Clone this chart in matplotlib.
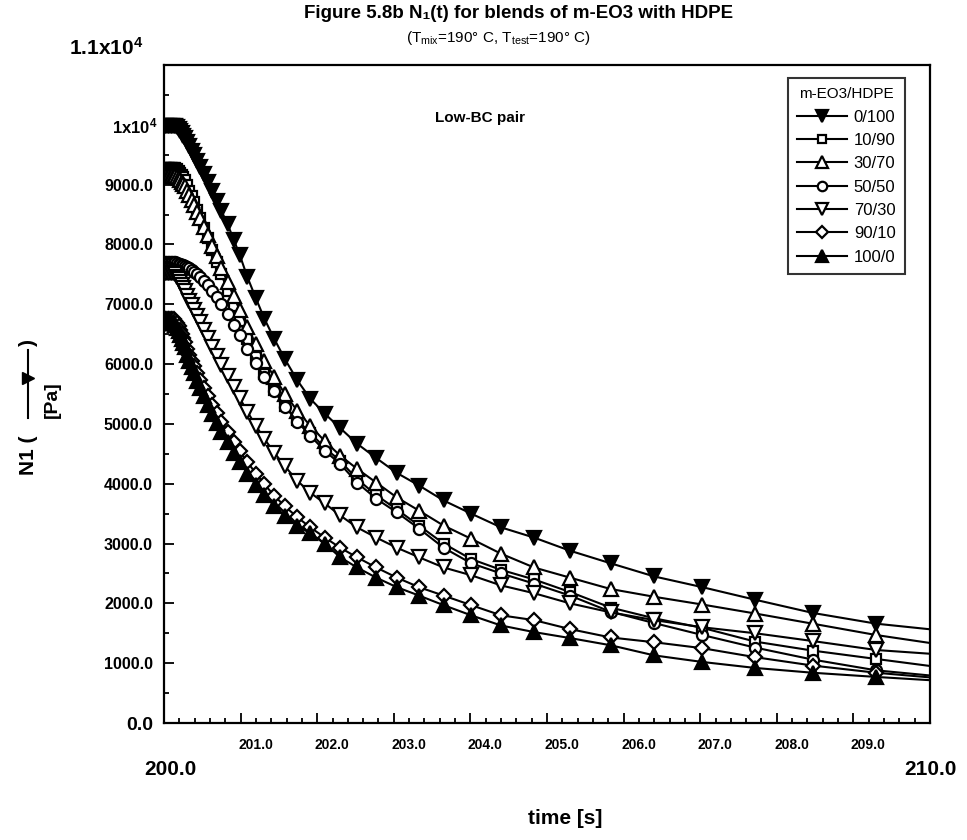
import matplotlib
matplotlib.use('Agg')
import matplotlib.pyplot as plt
from matplotlib.lines import Line2D
from matplotlib.transforms import ScaledTranslation
from matplotlib.ticker import MultipleLocator

plt.rcParams['font.family'] = ['Liberation Sans', 'DejaVu Sans']
plt.rcParams['mathtext.default'] = 'regular'

# ---------------- data ----------------
time = [200.01, 200.03, 200.05, 200.07, 200.09, 200.11, 200.13, 200.15,
        200.17, 200.19, 200.21, 200.23, 200.25, 200.27,
        200.30, 200.33, 200.36, 200.39, 200.43, 200.47, 200.52, 200.57,
        200.63, 200.69, 200.75, 200.83, 200.91, 200.99,
        201.09, 201.20, 201.31, 201.44, 201.58, 201.74, 201.91,
        202.10, 202.30, 202.52, 202.77, 203.04, 203.33, 203.65,
        204.01, 204.40, 204.83, 205.30, 205.83,
        206.40, 207.03, 207.72, 208.47, 209.30, 210.20]

n1_0_100 = [9980, 9980, 9980, 9980, 9980, 9980, 9980, 9980,
            9960, 9930, 9900, 9860, 9820, 9780,
            9710, 9640, 9570, 9500, 9400, 9300, 9180, 9050,
            8890, 8730, 8560, 8340, 8080, 7820,
            7450, 7100, 6760, 6420, 6080, 5730, 5420,
            5170, 4930, 4670, 4430, 4180, 3970, 3720,
            3500, 3270, 3100, 2880, 2670,
            2450, 2270, 2060, 1840, 1660, 1540]

n1_10_90 = [9280, 9280, 9280, 9280, 9280, 9280, 9280, 9280,
            9260, 9230, 9200, 9160, 9120, 9070,
            8990, 8900, 8810, 8710, 8580, 8450, 8280, 8110,
            7900, 7700, 7500, 7230, 6970, 6720,
            6420, 6120, 5840, 5560, 5300, 5060, 4850,
            4600, 4380, 4080, 3810, 3570, 3300, 3000,
            2740, 2560, 2400, 2190, 1930,
            1750, 1590, 1360, 1210, 1070, 920]

n1_30_70 = [9150, 9150, 9150, 9150, 9150, 9150, 9150, 9150,
            9130, 9110, 9080, 9050, 9010, 8970,
            8900, 8820, 8740, 8660, 8550, 8440, 8300, 8160,
            7980, 7800, 7610, 7370, 7130, 6900,
            6620, 6330, 6060, 5780, 5500, 5220, 4970,
            4710, 4470, 4250, 4020, 3770, 3550, 3300,
            3080, 2830, 2600, 2430, 2240,
            2110, 1980, 1830, 1660, 1470, 1300]

n1_50_50 = [7700, 7700, 7700, 7700, 7700, 7700, 7700, 7700,
            7690, 7680, 7670, 7660, 7650, 7640,
            7620, 7600, 7570, 7540, 7500, 7450, 7390, 7320,
            7230, 7120, 7000, 6830, 6660, 6480,
            6250, 6010, 5780, 5550, 5290, 5040, 4800,
            4550, 4330, 4020, 3750, 3520, 3250, 2930,
            2670, 2500, 2330, 2130, 1860,
            1670, 1470, 1260, 1060, 880, 770]

n1_70_30 = [7520, 7520, 7520, 7520, 7520, 7520, 7520, 7500,
            7460, 7420, 7370, 7320, 7270, 7220,
            7140, 7060, 6980, 6900, 6800, 6700, 6570, 6440,
            6290, 6140, 5990, 5800, 5610, 5430,
            5200, 4970, 4750, 4520, 4290, 4050, 3850,
            3670, 3470, 3270, 3100, 2930, 2770, 2600,
            2470, 2300, 2170, 2000, 1850,
            1720, 1600, 1500, 1370, 1220, 1140]

n1_90_10 = [6750, 6750, 6750, 6750, 6750, 6750, 6750, 6720,
            6680, 6630, 6570, 6510, 6440, 6370,
            6260, 6160, 6060, 5970, 5850, 5740, 5600, 5470,
            5320, 5180, 5040, 4870, 4700, 4540,
            4360, 4170, 3990, 3800, 3620, 3440, 3270,
            3100, 2930, 2770, 2600, 2430, 2270, 2130,
            1970, 1800, 1720, 1570, 1430,
            1350, 1250, 1100, 960, 840, 740]

n1_100_0 = [6680, 6680, 6680, 6680, 6680, 6680, 6680, 6650,
            6600, 6550, 6490, 6420, 6350, 6280,
            6160, 6050, 5950, 5850, 5720, 5600, 5460, 5320,
            5160, 5010, 4870, 4690, 4520, 4360,
            4170, 3980, 3810, 3630, 3460, 3300, 3170,
            3000, 2770, 2600, 2430, 2270, 2130, 1970,
            1800, 1630, 1520, 1420, 1300,
            1130, 1020, 920, 840, 770, 700]

series_labels = ['0/100', '10/90', '30/70', '50/50', '70/30', '90/10', '100/0']
series_values = [n1_0_100, n1_10_90, n1_30_70, n1_50_50, n1_70_30, n1_90_10, n1_100_0]

x_ticks = [200, 201, 202, 203, 204, 205, 206, 207, 208, 209, 210]
x_tick_labels = ['200.0', '201.0', '202.0', '203.0', '204.0', '205.0',
                 '206.0', '207.0', '208.0', '209.0', '210.0']
y_ticks = [0, 1000, 2000, 3000, 4000, 5000, 6000, 7000, 8000, 9000, 10000, 11000]
y_tick_labels = ['0.0', '1000.0', '2000.0', '3000.0', '4000.0', '5000.0',
                 '6000.0', '7000.0', '8000.0', '9000.0', '1x10$^{4}$', '1.1x10$^{4}$']

# ---------------- styles ----------------
markers = ['v', 's', '^', 'o', 'v', 'D', '^']
faces = ['k', 'w', 'w', 'w', 'w', 'w', 'k']
msizes = [9.5, 7.5, 9.5, 8, 9.5, 7, 9.5]

W, H = 967, 840
fig = plt.figure(figsize=(W / 100, H / 100), dpi=100)
ax = fig.add_axes([164 / W, 1 - 723 / H, (930 - 164) / W, (723 - 65) / H])


def px(dx, dy):
    return ScaledTranslation(dx / 100, -dy / 100, fig.dpi_scale_trans)


for vals, lab, m, fc, ms in zip(series_values, series_labels, markers, faces, msizes):
    ax.plot(time, vals, color='k', lw=1.5, marker=m, ms=ms, mfc=fc, mec='k',
            mew=1.6, label=lab)

ax.set_xlim(200, 210)
ax.set_ylim(0, 11000)
ax.set_xticks(x_ticks)
ax.set_xticklabels(x_tick_labels)
ax.set_yticks(y_ticks)
ax.set_yticklabels(y_tick_labels)
ax.xaxis.set_minor_locator(MultipleLocator(0.2))
ax.yaxis.set_minor_locator(MultipleLocator(500))
ax.tick_params(which='both', direction='in', top=False, right=False, width=1.3)
ax.tick_params(which='major', length=7)
ax.tick_params(which='minor', length=3.5)
ax.tick_params(axis='x', pad=11)
ax.tick_params(axis='y', pad=8)
for s in ax.spines.values():
    s.set_linewidth(1.6)

xl = ax.get_xticklabels()
for i, t in enumerate(xl):
    t.set_fontweight('bold')
    if i in (0, len(xl) - 1):
        t.set_fontsize(15)
        t.set_transform(t.get_transform() + px(6 if i == 0 else 0, 22))
    else:
        t.set_fontsize(10)
        t.set_transform(t.get_transform() + px(15, 0))

yl = ax.get_yticklabels()
for i, t in enumerate(yl):
    t.set_fontweight('bold')
    t.set_fontsize(11.5)
yl[0].set_fontsize(14)
yl[-2].set_fontsize(12)
yl[-2].set_transform(yl[-2].get_transform() + px(5, 0))
yl[-1].set_fontsize(15)
yl[-1].set_transform(yl[-1].get_transform() + px(-10, -19))

leg = ax.legend(title='m-EO3/HDPE', loc='upper right', bbox_to_anchor=(0.967, 0.98),
                frameon=True, fancybox=False, edgecolor='k', fontsize=12,
                title_fontsize=11, numpoints=1, handlelength=3.0,
                handletextpad=0.4, labelspacing=0.5, borderpad=0.55,
                borderaxespad=0.0, markerscale=0.85)
leg.get_frame().set_linewidth(1.5)

ax.text(0.412, 0.919, 'Low-BC pair', transform=ax.transAxes, ha='center',
        va='center', fontsize=11, fontweight='bold')

# titles
fig.text(519 / W, 1 - 14 / H, 'Figure 5.8b N₁(t) for blends of m-EO3 with HDPE',
         ha='center', va='center', fontsize=13.5, fontweight='bold')
fig.text(498 / W, 1 - 38 / H, '(T$_{mix}$=190° C, T$_{test}$=190° C)',
         ha='center', va='center', fontsize=11)

# axis labels
fig.text(565 / W, 1 - 818 / H, 'time [s]', ha='center', va='center',
         fontsize=15, fontweight='bold')
fig.text(28 / W, 1 - 455 / H, 'N1 (', ha='center', va='center', rotation=90,
         fontsize=15, fontweight='bold')
fig.text(28 / W, 1 - 342 / H, ')', ha='center', va='center', rotation=90,
         fontsize=15, fontweight='bold')
fig.text(52 / W, 1 - 400 / H, '[Pa]', ha='center', va='center', rotation=90,
         fontsize=14, fontweight='bold')
fig.add_artist(Line2D([28 / W, 28 / W], [1 - 418 / H, 1 - 350 / H], color='k', lw=1.5,
                      transform=fig.transFigure))
fig.add_artist(Line2D([28 / W], [1 - 378 / H], color='k', marker='>', ms=9,
                      transform=fig.transFigure))

fig.savefig('out.png', dpi=100)
